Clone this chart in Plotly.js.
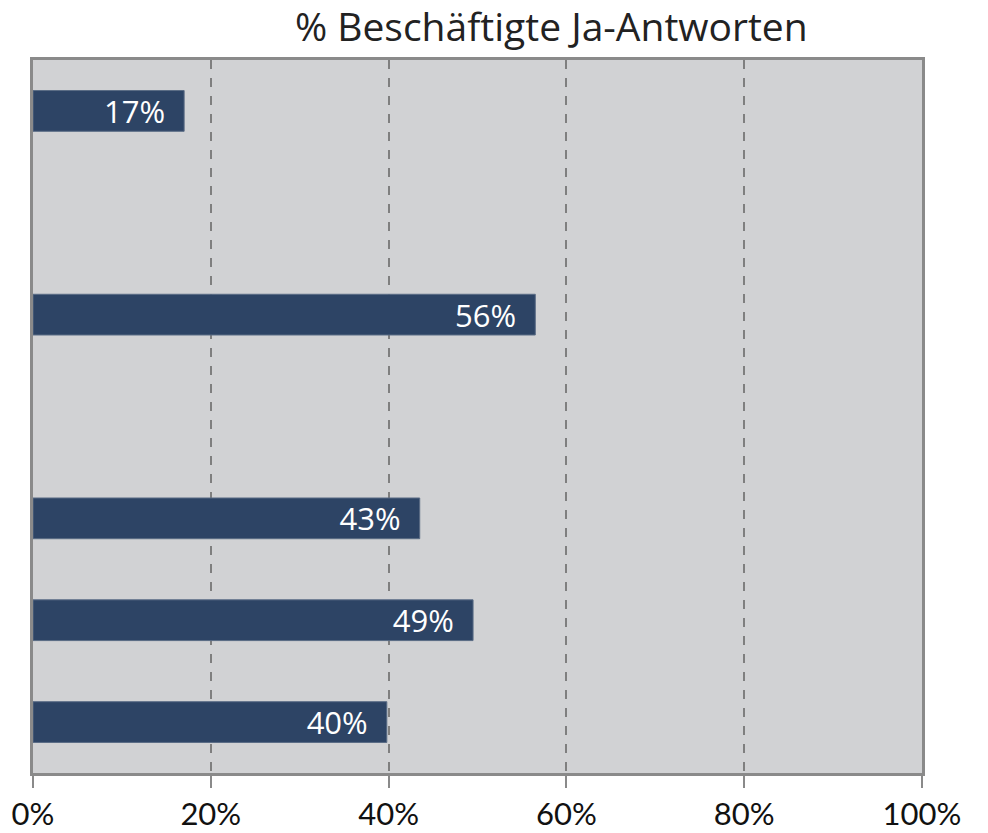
<!DOCTYPE html>
<html>
<head>
<meta charset="utf-8">
<script src="https://cdn.plot.ly/plotly-3.0.1.min.js"></script>
<style>html,body{margin:0;padding:0;background:#fff;}#chart{width:988px;height:833px;}</style>
</head>
<body>
<div id="chart"></div>
<script>
// Row slots (top to bottom); empty rows have no bar
var rowIndex = [0, 1, 2, 3, 4, 5, 6];
var values = [0.17, null, 0.565, null, 0.435, 0.495, 0.398];
var valueLabels = ['17%', '', '56%', '', '43%', '49%', '40%'];
var tickValues = [0, 0.2, 0.4, 0.6, 0.8, 1.0];
var tickLabels = ['0%', '20%', '40%', '60%', '80%', '100%'];
var titleText = '% Beschäftigte Ja-Antworten';

var FONT = 'Lato, "Open Sans", sans-serif';
var FONT2 = '"Open Sans", Lato, sans-serif';

var trace = {
  type: 'bar',
  orientation: 'h',
  x: values,
  y: rowIndex,
  width: 0.4,
  text: valueLabels.map(function (s) { return s ? s + '\u00a0\u00a0' : s; }),
  textposition: 'inside',
  insidetextanchor: 'end',
  textangle: 0,
  textfont: {family: FONT2, size: 31, color: '#ffffff'},
  constraintext: 'none',
  cliponaxis: false,
  marker: {color: '#2d4465', line: {color: '#5a6c85', width: 1}},
  hoverinfo: 'none'
};

var layout = {
  width: 988,
  height: 833,
  margin: {l: 33, r: 66, t: 60, b: 60},
  paper_bgcolor: '#ffffff',
  plot_bgcolor: '#d1d2d4',
  showlegend: false,
  title: {
    text: titleText,
    font: {family: FONT2, size: 39, color: '#222222'},
    xref: 'paper', x: 0.583, xanchor: 'center',
    yref: 'container', y: 1 - 27/833, yanchor: 'middle'
  },
  xaxis: {
    range: [0, 1],
    tickvals: tickValues,
    ticktext: tickLabels,
    ticks: 'outside',
    ticklen: 12,
    tickwidth: 2,
    tickcolor: '#8a8a8a',
    tickfont: {family: FONT, size: 31, color: '#111111'},
    showgrid: true,
    gridcolor: '#7f7f7f',
    gridwidth: 2,
    griddash: 'dash',
    zeroline: false,
    showline: true,
    linecolor: '#8a8a8a',
    linewidth: 3,
    mirror: true,
    fixedrange: true
  },
  yaxis: {
    range: [6.5, -0.5],
    showticklabels: false,
    ticks: '',
    showgrid: false,
    zeroline: false,
    showline: true,
    linecolor: '#8a8a8a',
    linewidth: 3,
    mirror: true,
    fixedrange: true
  },
  bargap: 0.6
};

Plotly.newPlot('chart', [trace], layout, {staticPlot: true, displayModeBar: false});
</script>
</body>
</html>
